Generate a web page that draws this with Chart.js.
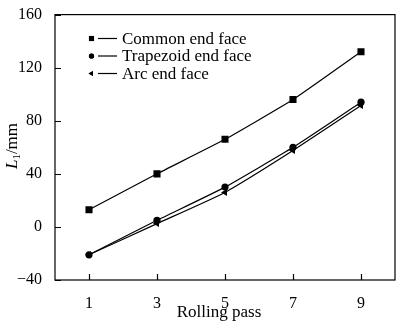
<!DOCTYPE html>
<html>
<head>
<meta charset="utf-8">
<script src="https://cdn.jsdelivr.net/npm/chart.js@4"></script>
<style>
  html, body { margin: 0; padding: 0; background: #fff; }
  #wrap { width: 400px; height: 323px; }
</style>
</head>
<body>
<div id="wrap"><canvas id="c" width="400" height="323"></canvas></div>
<script>
// Rolling pass vs. L1 for three end-face shapes
const passes = [ 1, 3, 5, 7, 9 ];
const commonFace = [ 13, 40, 66, 96, 132 ];
const trapezoidFace = [ -21, 5, 30, 60, 94 ];
const arcFace = [ -21, 2.5, 26, 57.5, 91.5 ];
const seriesNames = [ 'Common end face', 'Trapezoid end face', 'Arc end face' ];
const xTicks = [ 1, 3, 5, 7, 9 ];
const yTicks = [ -40, 0, 40, 80, 120, 160 ];

const FONT = '"Liberation Serif", "Times New Roman", serif';

const pts = ( ys ) => passes.map( ( x, i ) => ( { x, y: ys[ i ] } ) );

const series = ( label, ys, style, size, keySize, rot ) => ( {
	label,
	data: pts( ys ),
	borderColor: '#000',
	backgroundColor: '#000',
	borderWidth: 1.2,
	pointStyle: style,
	pointRadius: size,
	pointRotation: rot || 0,
	pointBorderWidth: 0,
	keySize,
	tension: 0.15,
} );

// Inward ticks, box frame, legend and axis titles
const decor = {
	id: 'decor',
	afterDraw( chart ) {
		const { ctx, chartArea: a, scales } = chart;
		ctx.save();
		ctx.strokeStyle = '#000';
		ctx.lineWidth = 1.2;
		ctx.strokeRect( a.left, a.top, a.right - a.left, a.bottom - a.top );

		ctx.beginPath();
		xTicks.forEach( ( v ) => {
			const x = Math.round( scales.x.getPixelForValue( v ) ) + 0.5;
			ctx.moveTo( x, a.bottom );
			ctx.lineTo( x, a.bottom - 6 );
		} );
		yTicks.forEach( ( v ) => {
			const y = Math.round( scales.y.getPixelForValue( v ) ) + 0.5;
			ctx.moveTo( a.left, y );
			ctx.lineTo( a.left + 6, y );
		} );
		ctx.stroke();

		// legend: marker, short line, label
		ctx.font = '17px ' + FONT;
		ctx.textBaseline = 'middle';
		ctx.fillStyle = '#000';
		chart.data.datasets.forEach( ( ds, i ) => {
			const y = 38.5 + i * 17.5;
			Chart.helpers.drawPoint( ctx, {
				pointStyle: ds.pointStyle,
				radius: ds.keySize,
				rotation: ds.pointRotation,
				borderWidth: 0,
			}, 91.5, y );
			ctx.fillStyle = '#000';
			ctx.fill();
			ctx.beginPath();
			ctx.lineWidth = 1.2;
			ctx.moveTo( 98, y );
			ctx.lineTo( 117, y );
			ctx.stroke();
			ctx.fillText( ds.label, 122, y + 1 );
		} );

		// x axis title
		ctx.textAlign = 'center';
		ctx.fillText( 'Rolling pass', 219, 313 );

		// y axis title: L (italic) with subscript 1, then /mm
		ctx.translate( 13, 146 );
		ctx.rotate( -Math.PI / 2 );
		ctx.textBaseline = 'middle';
		ctx.textAlign = 'left';
		const parts = [
			[ 'italic 17px ' + FONT, 'L', 0 ],
			[ '11px ' + FONT, '1', 4 ],
			[ '17px ' + FONT, '/mm', 0 ],
		];
		let w = 0;
		parts.forEach( ( [ f, t ] ) => { ctx.font = f; w += ctx.measureText( t ).width; } );
		let x = -w / 2;
		parts.forEach( ( [ f, t, dy ] ) => {
			ctx.font = f;
			ctx.fillText( t, x, dy );
			x += ctx.measureText( t ).width;
		} );
		ctx.restore();
	},
};

new Chart( document.getElementById( 'c' ), {
	type: 'line',
	data: {
		datasets: [
			series( seriesNames[ 0 ], commonFace, 'rect', 5, 3.6 ),
			series( seriesNames[ 1 ], trapezoidFace, 'circle', 3.6, 2.6 ),
			series( seriesNames[ 2 ], arcFace, 'triangle', 4, 3, -90 ),
		],
	},
	options: {
		responsive: false,
		animation: false,
		layout: { padding: { top: 7, right: 1, left: 0, bottom: 0 } },
		plugins: { legend: { display: false }, tooltip: { enabled: false } },
		scales: {
			x: {
				type: 'linear',
				min: 0,
				max: 10,
				grid: { display: false },
				border: { display: false },
				afterBuildTicks: ( s ) => { s.ticks = xTicks.map( ( v ) => ( { value: v } ) ); },
				afterFit: ( s ) => { s.height = 43; },
				ticks: { color: '#000', padding: 6, maxRotation: 0, font: { family: FONT, size: 16 } },
			},
			y: {
				min: -40,
				max: 160,
				grid: { display: false },
				border: { display: false },
				afterBuildTicks: ( s ) => { s.ticks = yTicks.map( ( v ) => ( { value: v } ) ); },
				afterFit: ( s ) => { s.width = 55; },
				ticks: {
					color: '#000',
					padding: 5,
					font: { family: FONT, size: 16 },
					callback: ( v ) => ( v < 0 ? '\u2212' + Math.abs( v ) : v ),
				},
			},
		},
	},
	plugins: [ decor ],
} );
</script>
</body>
</html>
